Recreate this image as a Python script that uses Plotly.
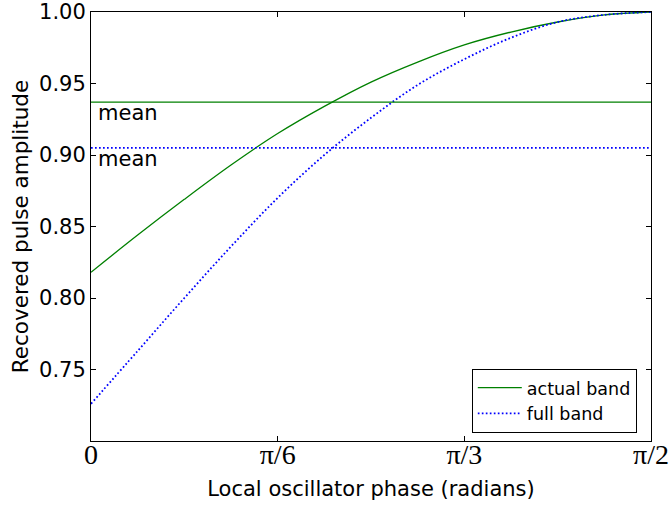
import numpy as np
import plotly.graph_objects as go

# Data
phase_deg = [0, 7.5, 15, 22.5, 30, 37.5, 45, 52.5, 60, 67.5, 75, 82.5, 90]
actual_band = [0.818, 0.844, 0.869, 0.893, 0.915, 0.934, 0.951, 0.965, 0.977, 0.986, 0.993, 0.998, 1.000]
full_band = [0.726, 0.763, 0.800, 0.836, 0.870, 0.900, 0.926, 0.949, 0.967, 0.982, 0.993, 0.998, 1.000]
mean_actual = 0.937
mean_full = 0.905
x_tick_vals = [0, np.pi / 6, np.pi / 3, np.pi / 2]
x_tick_text = ["0", "π/6", "π/3", "π/2"]
y_tick_vals = [0.75, 0.80, 0.85, 0.90, 0.95, 1.00]

phase = np.deg2rad(phase_deg)
x_range = [0, np.pi / 2]

GREEN = "#008000"
BLUE = "#0000ff"
SANS = "DejaVu Sans"
DOT = "1.7px,2.3px"

fig = go.Figure()
fig.add_trace(go.Scatter(x=phase, y=actual_band, mode="lines", name="actual band",
                         line=dict(color=GREEN, width=1.3, shape="spline")))
fig.add_trace(go.Scatter(x=phase, y=full_band, mode="lines", name="full band",
                         line=dict(color=BLUE, width=1.8, dash=DOT, shape="spline")))
fig.add_trace(go.Scatter(x=x_range, y=[mean_actual, mean_actual], mode="lines", showlegend=False,
                         line=dict(color=GREEN, width=1.3)))
fig.add_trace(go.Scatter(x=x_range, y=[mean_full, mean_full], mode="lines", showlegend=False,
                         line=dict(color=BLUE, width=1.8, dash=DOT)))

for m in (mean_actual, mean_full):
    fig.add_annotation(x=0, y=m, xref="x", yref="y", text="mean", showarrow=False,
                       xanchor="left", yanchor="top", xshift=5, yshift=3,
                       font=dict(family=SANS, size=21, color="black"))

axis_common = dict(showline=True, linecolor="black", linewidth=1, mirror="ticks",
                   ticks="inside", ticklen=5, tickwidth=1, tickcolor="black",
                   showgrid=False, zeroline=False, automargin=False)

fig.update_xaxes(range=x_range, tickvals=x_tick_vals, ticktext=x_tick_text,
                 tickfont=dict(family="Liberation Serif", size=28, color="black"),
                 ticklabelstandoff=-12,
                 title=dict(text="Local oscillator phase (radians)", standoff=12,
                            font=dict(family=SANS, size=21, color="black")),
                 **axis_common)
fig.update_yaxes(range=[0.70, 1.00], tickvals=y_tick_vals, tickformat=".2f",
                 tickfont=dict(family=SANS, size=21, color="black"),
                 title=dict(text="Recovered pulse amplitude", standoff=4,
                            font=dict(family=SANS, size=21.5, color="black")),
                 **axis_common)

fig.update_layout(
    width=672, height=506,
    margin=dict(l=91, r=20.5, t=12, b=65.3),
    plot_bgcolor="white", paper_bgcolor="white",
    showlegend=True,
    legend=dict(x=0.68, y=0.019, xanchor="left", yanchor="bottom",
                bgcolor="white", bordercolor="black", borderwidth=1,
                font=dict(family=SANS, size=17.5, color="black"),
                tracegroupgap=0, itemwidth=44),
)

fig.write_html("out.html")
